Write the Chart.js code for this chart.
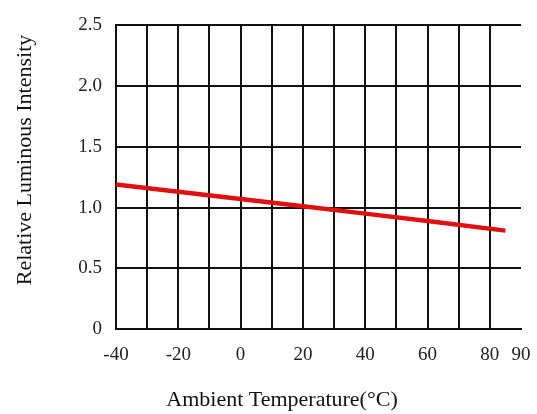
<!DOCTYPE html>
<html>
<head>
<meta charset="utf-8">
<script src="https://cdn.jsdelivr.net/npm/chart.js@4"></script>
<style>
	html, body { margin: 0; padding: 0; background: #fff; }
	#wrap { width: 537px; height: 414px; position: relative; }
</style>
</head>
<body>
<div id="wrap"><canvas id="chart"></canvas></div>
<script>
const temps = [-40, -20, 0, 20, 40, 60, 85];
const intensity = [1.19, 1.13, 1.07, 1.01, 0.95, 0.89, 0.81];
const xTickLabels = [-40, -20, 0, 20, 40, 60, 80, 90];
const yTickLabels = ['0', '0.5', '1.0', '1.5', '2.0', '2.5'];
const xTitle = 'Ambient Temperature(\u00b0C)';
const yTitle = 'Relative Luminous Intensity';

const serif = "'Liberation Serif', 'Times New Roman', serif";

// axis titles sit a bit off-centre in the original, so draw them by hand
const titlePlugin = {
	id: 'titles',
	afterDraw(chart){
		const ctx = chart.ctx;
		const area = chart.chartArea;
		ctx.save();
		ctx.fillStyle = '#111';
		ctx.font = '22px ' + serif;
		ctx.textAlign = 'center';
		ctx.textBaseline = 'alphabetic';
		ctx.fillText(xTitle, area.left + 166, 406);
		ctx.translate(31, 160);
		ctx.rotate(-Math.PI / 2);
		ctx.fillText(yTitle, 0, 0);
		ctx.restore();
	}
};

const data = {
	datasets: [{
		data: temps.map((t, i) => ({x: t, y: intensity[i]})),
		borderColor: '#e01010',
		borderWidth: 4.5,
		pointRadius: 0,
		tension: 0,
		fill: false
	}]
};

function gridColor(c){
	// right edge (90) has no visible line in the original
	if (c.index === 13) return 'rgba(0,0,0,0)';
	if (c.tick && c.tick.value >= 89) return 'rgba(0,0,0,0)';
	return '#111';
}

const config = {
	type: 'line',
	data: data,
	options: {
		responsive: true,
		maintainAspectRatio: false,
		animation: false,
		layout: { padding: { top: 19, right: 16, left: 0, bottom: 0 } },
		plugins: { legend: { display: false }, tooltip: { enabled: false } },
		scales: {
			x: {
				type: 'linear',
				min: -40,
				max: 90,
				afterFit: s => { s.height = 85; s.paddingLeft = 0; s.paddingRight = 0; },
				border: { color: '#111', width: 2 },
				grid: { color: gridColor, lineWidth: 2, drawTicks: false },
				ticks: {
					stepSize: 10,
					autoSkip: false,
					maxRotation: 0,
					padding: 15,
					color: '#222',
					font: { family: serif, size: 19 },
					callback: v => xTickLabels.includes(v) ? String(v) : ''
				}
			},
			y: {
				min: 0,
				max: 2.5,
				afterFit: s => { s.width = 116; },
				border: { color: '#111', width: 2 },
				grid: { color: '#111', lineWidth: 2, drawTicks: false },
				ticks: {
					stepSize: 0.5,
					padding: 14,
					color: '#222',
					font: { family: serif, size: 19 },
					callback: (v, i) => yTickLabels[i]
				}
			}
		}
	},
	plugins: [titlePlugin]
};

let ctx = document.getElementById('chart').getContext('2d');
new Chart(ctx, config);
</script>
</body>
</html>
